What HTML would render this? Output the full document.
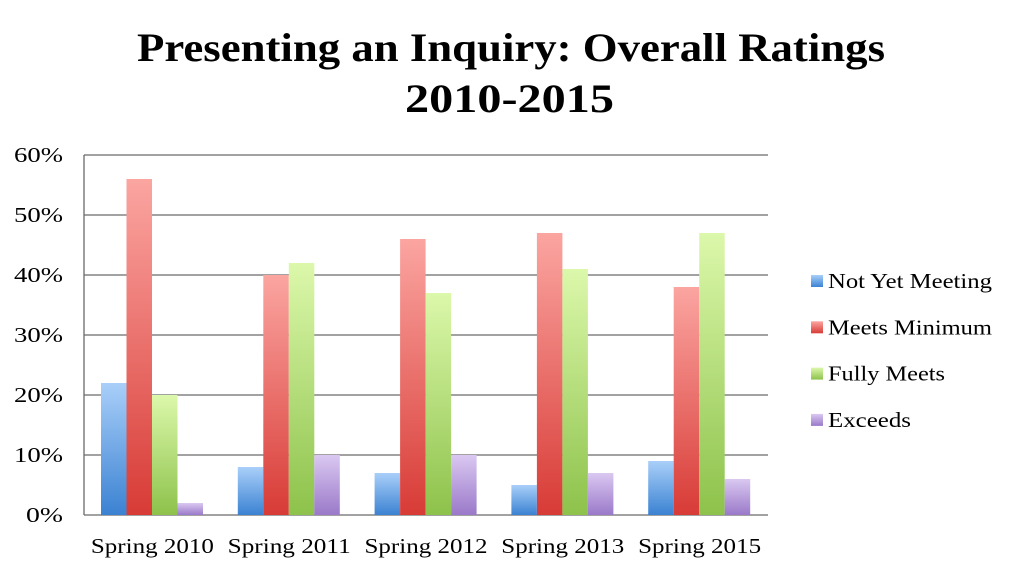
<!DOCTYPE html>
<html><head><meta charset="utf-8"><style>
body{margin:0;background:#fff;width:1024px;height:572px;overflow:hidden}
svg text{font-family:"Liberation Serif",serif}
</style></head><body>
<svg width="1024" height="572">
<defs>
<linearGradient id="g0" x1="0" y1="0" x2="0" y2="1"><stop offset="0" stop-color="#a9cff9"/><stop offset="1" stop-color="#3b82d2"/></linearGradient>
<linearGradient id="g1" x1="0" y1="0" x2="0" y2="1"><stop offset="0" stop-color="#fba5a1"/><stop offset="1" stop-color="#d83b36"/></linearGradient>
<linearGradient id="g2" x1="0" y1="0" x2="0" y2="1"><stop offset="0" stop-color="#dcf8ab"/><stop offset="1" stop-color="#8dc24b"/></linearGradient>
<linearGradient id="g3" x1="0" y1="0" x2="0" y2="1"><stop offset="0" stop-color="#dac8f1"/><stop offset="1" stop-color="#9a79c9"/></linearGradient>
</defs>
<text x="137" y="61" textLength="748" lengthAdjust="spacingAndGlyphs" font-size="40" font-weight="bold">Presenting an Inquiry: Overall Ratings</text>
<text x="405" y="112" textLength="209" lengthAdjust="spacingAndGlyphs" font-size="40" font-weight="bold">2010-2015</text>
<g id="grid"></g><g id="bars"></g><g id="legend"></g>
</svg>
<script>
const categories=["Spring 2010","Spring 2011","Spring 2012","Spring 2013","Spring 2015"];
const seriesNames=["Not Yet Meeting","Meets Minimum","Fully Meets","Exceeds"];
const notYet=[22,8,7,5,9];
const meetsMin=[56,40,46,47,38];
const fully=[20,42,37,41,47];
const exceeds=[2,10,10,7,6];
const yTicks=[0,10,20,30,40,50,60];
const series=[notYet,meetsMin,fully,exceeds];
const legendWidths=[164,164,117,83];
const NS="http://www.w3.org/2000/svg";
const x0=84,x1=768,yb=515,yt=155,ymax=60;
const y=v=>yb-(v/ymax)*(yb-yt);
const gw=(x1-x0)/categories.length,bw=25.5,off=17;
function mk(t,a,p){const e=document.createElementNS(NS,t);for(const k in a)e.setAttribute(k,a[k]);p.appendChild(e);return e;}
const grid=document.getElementById('grid');
yTicks.forEach(t=>{
 const l=mk('line',{x1:x0,x2:x1,y1:y(t),y2:y(t),stroke:'#6a6a6a','stroke-width':1.3},grid);
 
 
 const tx=mk('text',{x:63,y:y(t)+7,'text-anchor':'end','font-size':21,textLength:(t===0?37:49),lengthAdjust:'spacingAndGlyphs'},grid);
 tx.textContent=t+'%';
 
 
});
const ax=mk('line',{x1:x0,x2:x0,y1:yt,y2:yb,stroke:'#6a6a6a','stroke-width':1.3},grid);


const bars=document.getElementById('bars');
categories.forEach((c,i)=>{
 series.forEach((s,j)=>{
  const r=mk('rect',{x:x0+i*gw+off+j*bw,y:y(s[i]),width:bw,height:yb-y(s[i]),fill:'url(#g'+j+')'},bars);
  
  
 });
 const tx=mk('text',{x:x0+i*gw+gw/2-61.5,y:553,'font-size':21,textLength:123,lengthAdjust:'spacingAndGlyphs'},bars);
 tx.textContent=c;
 
 
});
const lg=document.getElementById('legend');
seriesNames.forEach((n,j)=>{
 const ly=281+j*46.3;
 const r=mk('rect',{x:811,y:ly-6,width:12,height:12,fill:'url(#g'+j+')'},lg);
 
 
 const t=mk('text',{x:828,y:ly+7,'font-size':21,textLength:legendWidths[j],lengthAdjust:'spacingAndGlyphs'},lg);
 t.textContent=n;
 
 
});
</script>
</body></html>
